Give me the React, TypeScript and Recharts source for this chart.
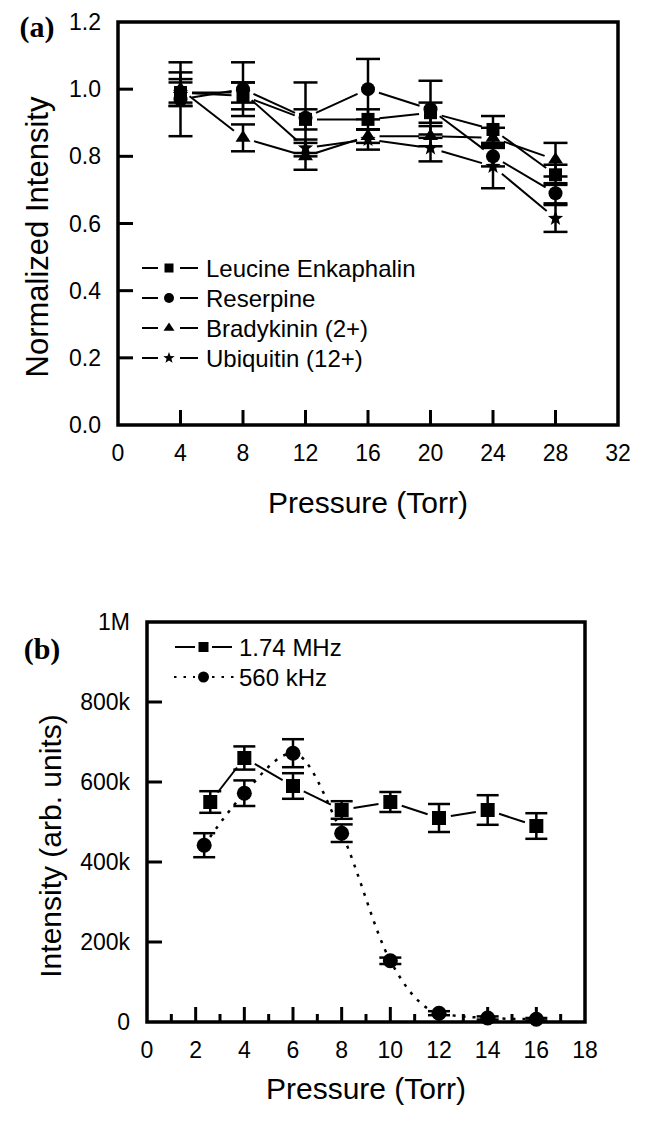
import { LineChart, Line, XAxis, YAxis, ErrorBar, ReferenceArea } from "recharts";

const FONT = '"Liberation Sans", Arial, sans-serif';
const SERIF = '"Liberation Serif", "Times New Roman", serif';

// panel (a): normalized intensity vs pressure
const PRESSURE_A = [4, 8, 12, 16, 20, 24, 28];
const LEUCINE = [0.99, 0.98, 0.91, 0.91, 0.93, 0.88, 0.745];
const LEUCINE_ERR = [0.04, 0.04, 0.03, 0.03, 0.03, 0.04, 0.03];
const RESERPINE = [0.97, 1.0, 0.915, 1.0, 0.94, 0.8, 0.69];
const RESERPINE_ERR = [0.11, 0.08, 0.105, 0.09, 0.085, 0.03, 0.03];
const BRADYKININ = [1.0, 0.855, 0.8, 0.86, 0.86, 0.855, 0.79];
const BRADYKININ_ERR = [0.05, 0.04, 0.04, 0.02, 0.03, 0.03, 0.05];
const UBIQUITIN = [0.99, 0.99, 0.825, 0.85, 0.825, 0.77, 0.615];
const UBIQUITIN_ERR = [0.03, 0.03, 0.025, 0.03, 0.04, 0.065, 0.04];

const TICKS_A_X = [0, 4, 8, 12, 16, 20, 24, 28, 32];
const TICKS_A_Y = [0, 0.2, 0.4, 0.6, 0.8, 1.0, 1.2];
const LEGEND_A = ["Leucine Enkaphalin", "Reserpine", "Bradykinin (2+)", "Ubiquitin (12+)"];

// panel (b): intensity vs pressure for two RF frequencies
const PRESSURE_MHZ = [2.6, 4, 6, 8, 10, 12, 14, 16];
const MHZ = [550000, 660000, 590000, 530000, 550000, 510000, 530000, 490000];
const MHZ_ERR = [27000, 29000, 32000, 22000, 25000, 35000, 37000, 32000];
const PRESSURE_KHZ = [2.35, 4, 6, 8, 10, 12, 14, 16];
const KHZ = [442000, 572000, 672000, 472000, 153000, 22000, 10000, 7000];
const KHZ_ERR = [30000, 32000, 35000, 22000, 8000, 5000, 4000, 3000];

const TICKS_B_X = [0, 1, 2, 3, 4, 5, 6, 7, 8, 9, 10, 11, 12, 13, 14, 15, 16, 17, 18];
const TICKS_B_Y = [0, 200000, 400000, 600000, 800000, 1000000];
const LEGEND_B = ["1.74 MHz", "560 kHz"];

const rows = (xs: number[], ys: number[], es: number[]) =>
  xs.map((p, i) => ({ p, v: ys[i], e: es[i] }));

type Mk = "square" | "circle" | "triangle" | "star";

function starPath(cx: number, cy: number, R: number) {
  const r = R * 0.42;
  let d = "";
  for (let i = 0; i < 10; i++) {
    const a = -Math.PI / 2 + (i * Math.PI) / 5;
    const rr = i % 2 === 0 ? R : r;
    d += (i === 0 ? "M" : "L") + (cx + rr * Math.cos(a)).toFixed(2) + "," + (cy + rr * Math.sin(a)).toFixed(2);
  }
  return d + "Z";
}

function Marker({ kind, cx, cy, s }: { kind: Mk; cx: number; cy: number; s: number }) {
  if (kind === "square") return <rect x={cx - s / 2} y={cy - s / 2} width={s} height={s} fill="#000" />;
  if (kind === "circle") return <circle cx={cx} cy={cy} r={s / 2 + 0.5} fill="#000" />;
  if (kind === "triangle") {
    const h = s * 0.9;
    return (
      <polygon
        points={`${cx},${cy - (h * 2) / 3} ${cx - s / 2 - 1},${cy + h / 3} ${cx + s / 2 + 1},${cy + h / 3}`}
        fill="#000"
      />
    );
  }
  return <path d={starPath(cx, cy, s / 2 + 1.5)} fill="#000" />;
}

// marker plus the connecting segment to the next point, stopped short of both markers
const gapDot = (kind: Mk, s: number, id: string) => (p: any) => {
  const pts = p.points as { x: number; y: number }[] | undefined;
  const next = pts && pts[p.index + 1];
  let seg = null;
  if (next) {
    const dx = next.x - p.cx;
    const dy = next.y - p.cy;
    const len = Math.hypot(dx, dy);
    const g = s / 2 + 5;
    if (len > 2 * g) {
      const ux = dx / len;
      const uy = dy / len;
      seg = (
        <line
          x1={p.cx + ux * g}
          y1={p.cy + uy * g}
          x2={next.x - ux * g}
          y2={next.y - uy * g}
          stroke="#000"
          strokeWidth={2}
        />
      );
    }
  }
  return (
    <g key={`${id}-${p.index}`}>
      {seg}
      <Marker kind={kind} cx={p.cx} cy={p.cy} s={s} />
    </g>
  );
};

const dotOf = (kind: Mk, s: number, id: string) => (p: any) => (
  <Marker key={`${id}-${p.index}`} kind={kind} cx={p.cx} cy={p.cy} s={s} />
);

const xTick = (lo: number, hi: number, isMajor: (v: number) => boolean) => (props: any) => {
  const { x, y, payload } = props;
  const v = payload.value as number;
  const major = isMajor(v);
  const edge = v === lo || v === hi;
  return (
    <g>
      {!edge && (
        <line x1={x} x2={x} y1={y} y2={y - (major ? 15 : 8)} stroke="#000" strokeWidth={3} />
      )}
      {major && (
        <text x={x} y={y + 28} textAnchor="middle" dominantBaseline="central" fontSize={23} fontFamily={FONT} fill="#000">
          {v}
        </text>
      )}
    </g>
  );
};

const yTick = (lo: number, hi: number, fmt: (v: number) => string) => (props: any) => {
  const { x, y, payload } = props;
  const v = payload.value as number;
  const edge = v === lo || v === hi;
  return (
    <g>
      {!edge && <line x1={x} x2={x + 15} y1={y} y2={y} stroke="#000" strokeWidth={3} />}
      <text x={x - 17} y={y} textAnchor="end" dominantBaseline="central" fontSize={23} fontFamily={FONT} fill="#000">
        {fmt(v)}
      </text>
    </g>
  );
};

const fmtB = (v: number) => (v === 0 ? "0" : v >= 1000000 ? `${v / 1000000}M` : `${v / 1000}k`);

const SERIES_A: { name: string; kind: Mk; ys: number[]; es: number[] }[] = [
  { name: LEGEND_A[0], kind: "square", ys: LEUCINE, es: LEUCINE_ERR },
  { name: LEGEND_A[1], kind: "circle", ys: RESERPINE, es: RESERPINE_ERR },
  { name: LEGEND_A[2], kind: "triangle", ys: BRADYKININ, es: BRADYKININ_ERR },
  { name: LEGEND_A[3], kind: "star", ys: UBIQUITIN, es: UBIQUITIN_ERR },
];

function LegendRow({ kind, y, x0, x1, x2, x3, tx, text, dotted, s }: any) {
  const mx = (x1 + x2) / 2;
  const dash = dotted ? "2.5 7" : undefined;
  return (
    <g>
      <line x1={x0} x2={x1} y1={y} y2={y} stroke="#000" strokeWidth={2} strokeDasharray={dash} />
      <Marker kind={kind} cx={mx} cy={y} s={s} />
      <line x1={x2} x2={x3} y1={y} y2={y} stroke="#000" strokeWidth={2} strokeDasharray={dash} />
      <text x={tx} y={y} dominantBaseline="central" fontSize={24} fontFamily={FONT} fill="#000">
        {text}
      </text>
    </g>
  );
}

export default function App() {
  return (
    <div style={{ position: "absolute", left: 0, top: 0, width: 649, height: 1125, background: "#fff" }}>
      {/* (a) */}
      <div style={{ position: "absolute", left: 0, top: 0 }}>
        <LineChart width={649} height={540} margin={{ top: 22, right: 31, bottom: 55, left: 0 }}>
          <XAxis
            dataKey="p"
            type="number"
            domain={[0, 32]}
            ticks={TICKS_A_X}
            interval={0}
            axisLine={false}
            tickLine={false}
            tickSize={0}
            tickMargin={0}
            height={60}
            tick={xTick(0, 32, () => true)}
            allowDuplicatedCategory={false}
          />
          <YAxis
            type="number"
            domain={[0, 1.2]}
            ticks={TICKS_A_Y}
            interval={0}
            axisLine={false}
            tickLine={false}
            tickSize={0}
            tickMargin={0}
            width={118}
            tick={yTick(0, 1.2, (v) => v.toFixed(1))}
          />
          <ReferenceArea x1={0} x2={32} y1={0} y2={1.2} fill="none" stroke="#000" strokeWidth={3.5} />
          {SERIES_A.map((s) => (
            <Line
              key={s.name}
              name={s.name}
              data={rows(PRESSURE_A, s.ys, s.es)}
              dataKey="v"
              type="linear"
              stroke="none"
              dot={gapDot(s.kind, 13, s.name)}
              activeDot={false}
              isAnimationActive={false}
            >
              <ErrorBar dataKey="e" direction="y" width={12} stroke="#000" strokeWidth={2.5} isAnimationActive={false} />
            </Line>
          ))}
        </LineChart>
      </div>

      {/* (b) */}
      <div style={{ position: "absolute", left: 0, top: 560 }}>
        <LineChart width={649} height={565} margin={{ top: 62, right: 64, bottom: 43, left: 0 }}>
          <XAxis
            dataKey="p"
            type="number"
            domain={[0, 18]}
            ticks={TICKS_B_X}
            interval={0}
            axisLine={false}
            tickLine={false}
            tickSize={0}
            tickMargin={0}
            height={60}
            tick={xTick(0, 18, (v) => v % 2 === 0)}
            allowDuplicatedCategory={false}
          />
          <YAxis
            type="number"
            domain={[0, 1000000]}
            ticks={TICKS_B_Y}
            interval={0}
            axisLine={false}
            tickLine={false}
            tickSize={0}
            tickMargin={0}
            width={147}
            tick={yTick(0, 1000000, fmtB)}
          />
          <ReferenceArea x1={0} x2={18} y1={0} y2={1000000} fill="none" stroke="#000" strokeWidth={3.5} />
          <Line
            name={LEGEND_B[0]}
            data={rows(PRESSURE_MHZ, MHZ, MHZ_ERR)}
            dataKey="v"
            type="linear"
            stroke="none"
            dot={gapDot("square", 14, "mhz")}
            activeDot={false}
            isAnimationActive={false}
          >
            <ErrorBar dataKey="e" direction="y" width={11} stroke="#000" strokeWidth={2.5} isAnimationActive={false} />
          </Line>
          <Line
            name={LEGEND_B[1]}
            data={rows(PRESSURE_KHZ, KHZ, KHZ_ERR)}
            dataKey="v"
            type="monotone"
            stroke="#000"
            strokeWidth={2.5}
            strokeDasharray="3 7"
            dot={dotOf("circle", 14, "khz")}
            activeDot={false}
            isAnimationActive={false}
          >
            <ErrorBar dataKey="e" direction="y" width={11} stroke="#000" strokeWidth={2.5} isAnimationActive={false} />
          </Line>
        </LineChart>
      </div>

      {/* titles, legends, panel letters */}
      <svg width={649} height={1125} style={{ position: "absolute", left: 0, top: 0, pointerEvents: "none" }}>
        <text x={37} y={26} textAnchor="middle" dominantBaseline="central" fontSize={30} fontWeight="bold" fontFamily={SERIF}>
          (a)
        </text>
        <text x={42} y={648} textAnchor="middle" dominantBaseline="central" fontSize={30} fontWeight="bold" fontFamily={SERIF}>
          (b)
        </text>
        <text x={368} y={502} textAnchor="middle" dominantBaseline="central" fontSize={30} fontFamily={FONT}>
          Pressure (Torr)
        </text>
        <text
          x={37}
          y={237}
          textAnchor="middle"
          dominantBaseline="central"
          fontSize={31}
          fontFamily={FONT}
          transform="rotate(-90 37 237)"
        >
          Normalized Intensity
        </text>
        <text x={366} y={1088} textAnchor="middle" dominantBaseline="central" fontSize={30} fontFamily={FONT}>
          Pressure (Torr)
        </text>
        <text
          x={50}
          y={846}
          textAnchor="middle"
          dominantBaseline="central"
          fontSize={30}
          fontFamily={FONT}
          transform="rotate(-90 50 846)"
        >
          Intensity (arb. units)
        </text>

        {SERIES_A.map((s, i) => (
          <LegendRow
            key={s.name}
            kind={s.kind}
            y={268 + i * 30}
            x0={142}
            x1={158}
            x2={180}
            x3={198}
            tx={206}
            text={s.name}
            s={9}
          />
        ))}
        <LegendRow kind="square" y={647} x0={175} x1={195} x2={212} x3={232} tx={239} text={LEGEND_B[0]} s={10} />
        <LegendRow kind="circle" y={677} x0={174} x1={195} x2={212} x3={234} tx={239} text={LEGEND_B[1]} s={10} dotted />
      </svg>
    </div>
  );
}
